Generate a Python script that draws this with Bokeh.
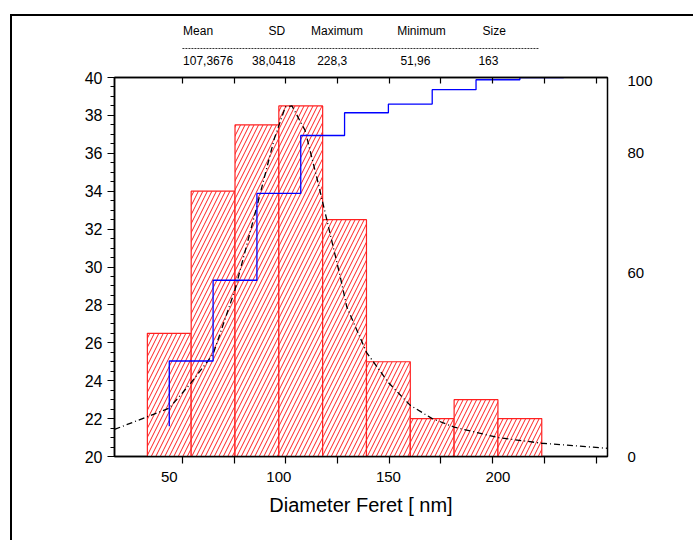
from bokeh.plotting import figure
from bokeh.models import (LinearAxis, Range1d, FixedTicker, SingleIntervalTicker)
from bokeh.core.properties import value
from bokeh.layouts import column
from bokeh.embed import file_html
from bokeh.resources import INLINE

# ---------------- data ----------------
bin_left = [40, 60, 80, 100, 120, 140, 160, 180, 200]
bin_right = [60, 80, 100, 120, 140, 160, 180, 200, 220]
counts = [26.5, 34.0, 37.5, 38.5, 32.5, 25.0, 22.0, 23.0, 22.0]

cum_x = [50, 50, 70, 90, 110, 130, 150, 170, 190, 210, 230]
cum_pct = [8.0, 25.2, 46.5, 69.4, 84.7, 90.7, 93.0, 96.8, 99.4, 100.0, 100.0]

fit_x = [25, 40, 50, 60, 70, 80, 90, 98, 103, 106, 112, 118, 128, 131, 140, 150, 160, 170, 180, 200, 220, 250]
fit_y = [21.43, 22.1, 22.55, 23.9, 25.4, 28.8, 33.2, 36.8, 38.45, 38.5, 37.2, 34.4, 29.5, 27.9, 25.5,
         23.9, 22.7, 22.0, 21.55, 21.0, 20.7, 20.43]

x_tick_marks = [56, 79.6, 103.2, 126.8, 150.4, 174, 197.6, 221.2, 244.8]
x_tick_labels = [50, 100, 150, 200]
right_tick_pos = [0, 48.4, 80, 99.2]
right_tick_text = ["0", "60", "80", "100"]

stat_names = ["Mean", "SD", "Maximum", "Minimum", "Size"]
stat_values = ["107,3676", "38,0418", "228,3", "51,96", "163"]
stat_name_x = [56.3, 95.3, 114.7, 154.0, 193.0]
stat_value_x = [56.3, 87.8, 117.5, 155.5, 191.1]

FONT = "Liberation Sans"
W = 681

x_range = Range1d(25, 250)

# ---------------- statistics table (top strip) ----------------
top = figure(width=W, height=55, output_backend="svg", toolbar_location=None,
             x_range=x_range, y_range=Range1d(55, 0),
             min_border_left=102, min_border_right=86, min_border_top=0, min_border_bottom=0)
top.axis.visible = False
top.grid.visible = False
top.outline_line_color = None
top.border_fill_color = "white"
top.text(x=stat_name_x, y=[14] * 5, text=stat_names, text_font=value(FONT),
         text_font_size="12px", text_baseline="middle", text_align="left", text_color="black")
top.text(x=stat_value_x, y=[44] * 5, text=stat_values, text_font=value(FONT),
         text_font_size="12px", text_baseline="middle", text_align="left", text_color="black")
top.segment(x0=[56.0], y0=[32], x1=[218.5], y1=[32], line_color="black", line_width=0.8,
            line_dash="2 1")

# ---------------- main chart ----------------
p = figure(width=W, height=469, output_backend="svg", toolbar_location=None,
           x_range=x_range, y_range=Range1d(20, 40),
           min_border_left=102, min_border_top=6, min_border_right=86, min_border_bottom=84)
p.extra_y_ranges = {"pct": Range1d(0, 100)}
p.xgrid.visible = False
p.ygrid.visible = False
p.outline_line_color = "black"
p.outline_line_width = 1.5
p.background_fill_color = "white"
p.border_fill_color = "white"

# histogram bars
p.quad(left=bin_left, right=bin_right, top=counts, bottom=20,
       fill_color="white", line_color="#ff2020", line_width=1.2,
       hatch_pattern="/", hatch_color="#ff2020", hatch_scale=9, hatch_weight=1.0)

# fit curve
p.line(fit_x, fit_y, line_color="black", line_width=1.3, line_dash="6 3 1 3")

# cumulative
p.step(cum_x, cum_pct, mode="after", line_color="#0000ff", line_width=1.3, y_range_name="pct")

# left axis
ya = p.yaxis[0]
ya.ticker = SingleIntervalTicker(interval=2, num_minor_ticks=4)
ya.major_tick_out = 7
ya.major_tick_in = 0
ya.minor_tick_out = 4
ya.minor_tick_in = 0
ya.axis_line_width = 1.5
ya.major_tick_line_width = 1.2
ya.major_label_text_font = FONT
ya.major_label_text_font_size = "16px"
ya.major_label_text_color = "black"
ya.major_label_standoff = 5

# bottom axis (tick marks only)
xa = p.xaxis[0]
xa.ticker = FixedTicker(ticks=x_tick_marks, minor_ticks=[])
xa.major_tick_out = 7
xa.major_tick_in = 0
xa.major_tick_line_width = 1.2
xa.axis_line_width = 1.5
xa.major_label_text_font_size = "0px"
xa.major_label_standoff = 0
xa.major_label_overrides = {t: "" for t in x_tick_marks}

# bottom axis (labels)
xl = LinearAxis(ticker=FixedTicker(ticks=x_tick_labels, minor_ticks=[]),
                axis_line_color=None, major_tick_line_color=None, minor_tick_line_color=None,
                major_label_text_font=FONT, major_label_text_font_size="15px",
                major_label_text_color="black", major_label_standoff=2,
                axis_label="Diameter Feret [ nm]", axis_label_text_font=FONT,
                axis_label_text_font_size="20px", axis_label_text_font_style="normal",
                axis_label_text_color="black", axis_label_standoff=9)
p.add_layout(xl, "below")

# top axis (inward tick marks)
xt = LinearAxis(ticker=FixedTicker(ticks=x_tick_marks, minor_ticks=[]),
                major_tick_in=6, major_tick_out=0, major_tick_line_width=1.2,
                axis_line_width=1.5, major_label_text_font_size="0px",
                major_label_standoff=0)
xt.major_label_overrides = {t: "" for t in x_tick_marks}
p.add_layout(xt, "above")

# right axis
yr = LinearAxis(y_range_name="pct", ticker=FixedTicker(ticks=right_tick_pos, minor_ticks=[]),
                axis_line_color=None, major_tick_line_color=None, minor_tick_line_color=None,
                major_label_text_font=FONT, major_label_text_font_size="15px",
                major_label_text_color="black", major_label_standoff=14)
yr.major_label_overrides = {t: s for t, s in zip(right_tick_pos, right_tick_text)}
p.add_layout(yr, "right")

layout = column(top, p, margin=(14, 0, 0, 10), spacing=0,
                styles={"border-style": "solid", "border-color": "black",
                        "border-width": "2px 0px 0px 2px"})

open("out.html", "w").write(file_html(layout, INLINE))
